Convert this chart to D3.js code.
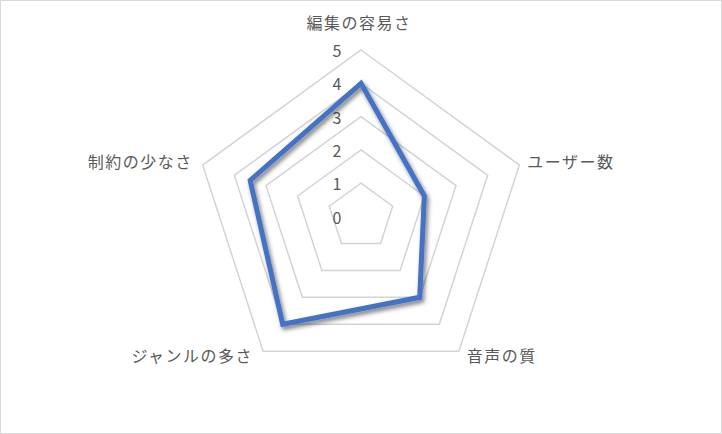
<!DOCTYPE html>
<html>
<head>
<meta charset="utf-8">
<script src="https://cdn.jsdelivr.net/npm/d3@7"></script>
<style>
  body { margin: 0; background: #fff; }
  svg { display: block; }
  .label { font-family: "Noto Sans CJK JP", "Noto Sans", sans-serif; fill: #595959; }
</style>
</head>
<body>
<div id="chart"></div>
<script>
  // axis names, going clockwise from the top
  const categories = ['編集の容易さ', 'ユーザー数', '音声の質', 'ジャンルの多さ', '制約の少なさ'];
  const values = [4, 2, 3, 4, 3.5];
  const levels = [0, 1, 2, 3, 4, 5];

  const width = 722, height = 434;
  const cx = 361, cy = 216.5;
  const radius = 166.5;

  const r = d3.scaleLinear().domain([0, 5]).range([0, radius]);
  const angle = i => -Math.PI / 2 + i * 2 * Math.PI / categories.length;
  const point = (i, v) => [cx + r(v) * Math.cos(angle(i)), cy + r(v) * Math.sin(angle(i))];

  const svg = d3.select('#chart').append('svg')
    .attr('width', width)
    .attr('height', height);

  // outer frame
  svg.append('rect')
    .attr('x', 0.5).attr('y', 0.5)
    .attr('width', width - 1).attr('height', height - 1)
    .attr('fill', '#fff')
    .attr('stroke', '#d9d9d9');

  const defs = svg.append('defs');
  const shadow = defs.append('filter')
    .attr('id', 'shadow')
    .attr('x', '-20%').attr('y', '-20%')
    .attr('width', '140%').attr('height', '140%');
  shadow.append('feDropShadow')
    .attr('dx', 2).attr('dy', 3)
    .attr('stdDeviation', 2.2)
    .attr('flood-color', '#000')
    .attr('flood-opacity', 0.5);

  const line = d3.line().curve(d3.curveLinearClosed);

  // grid pentagons (level 0 collapses to the centre)
  svg.append('g').selectAll('path')
    .data(levels.filter(l => l > 0))
    .enter().append('path')
    .attr('d', l => line(categories.map((c, i) => point(i, l))))
    .attr('fill', 'none')
    .attr('stroke', '#d4d4d4')
    .attr('stroke-width', 1.5);

  // tick labels along the top axis
  svg.append('g').selectAll('text')
    .data(levels)
    .enter().append('text')
    .attr('class', 'label')
    .attr('x', cx - 24)
    .attr('y', l => cy - r(l))
    .attr('text-anchor', 'middle')
    .attr('dominant-baseline', 'central')
    .style('font-size', '16px')
    .text(l => l);

  // data polygon
  svg.append('path')
    .datum(values)
    .attr('d', d => line(d.map((v, i) => point(i, v))))
    .attr('fill', 'none')
    .attr('stroke', '#4472c4')
    .attr('stroke-width', 5)
    .attr('stroke-linejoin', 'miter')
    .attr('filter', 'url(#shadow)');

  // category labels
  svg.append('g').selectAll('text')
    .data(categories)
    .enter().append('text')
    .attr('class', 'label')
    .each(function(c, i) {
      const [px, py] = point(i, 5);
      const cos = Math.cos(angle(i));
      let anchor = 'middle', dx = -2, dy = -28;
      if (cos > 0.1) { anchor = 'start'; dx = 8; dy = py < cy ? -4 : 4; }
      if (cos < -0.1) { anchor = 'end'; dx = -10; dy = py < cy ? -4 : 4; }
      d3.select(this)
        .attr('x', px + dx)
        .attr('y', py + dy)
        .attr('text-anchor', anchor)
        .attr('dominant-baseline', 'central');
    })
    .style('font-size', '16px')
    .style('letter-spacing', '1.5px')
    .text(c => c);
</script>
</body>
</html>
